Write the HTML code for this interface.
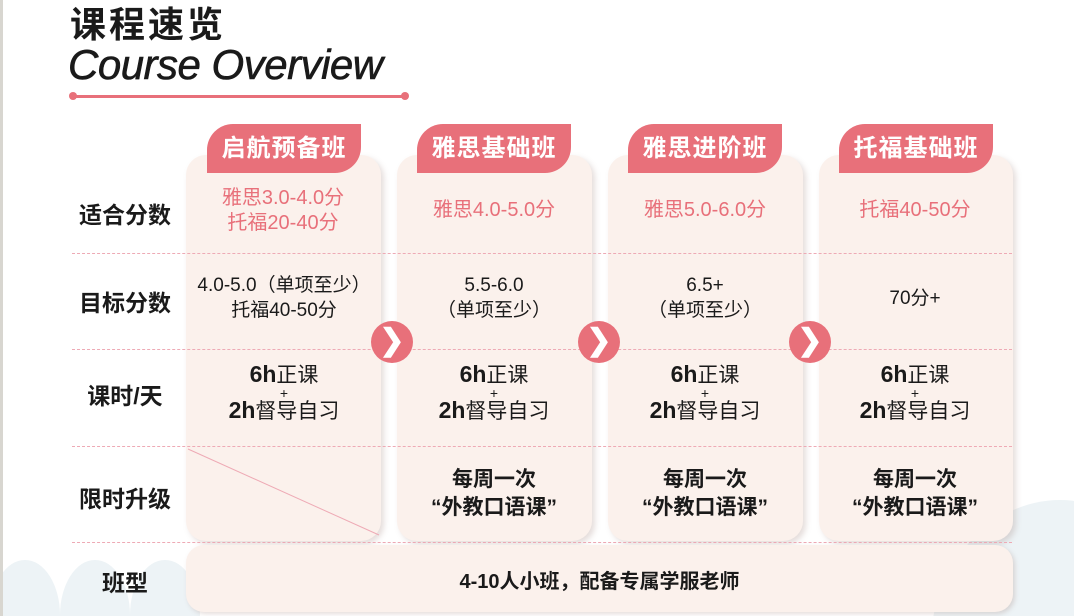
<!DOCTYPE html>
<html style="width:1074px;height:616px;overflow:hidden"><head><meta charset="utf-8"><style>
*{margin:0;padding:0;box-sizing:border-box}
body{width:1074px;height:616px;overflow:hidden;background:#fff;position:relative;font-family:"Liberation Sans","Noto Sans CJK SC",sans-serif;color:#1a1a1a}
.abs{position:absolute}
.circ{position:absolute;border-radius:50%;background:#edf3f6}
.card{position:absolute;top:155px;height:386px;background:#fbf1ec;border-radius:20px;box-shadow:3px 3px 6px rgba(150,120,110,.25)}
.tab{position:absolute;top:124px;height:49px;width:154px;background:#e8707a;border-radius:26px 0 26px 0;color:#fff;font-weight:bold;font-size:24px;text-align:center;line-height:49px;letter-spacing:1px}
.dl{position:absolute;left:72px;width:940px;border-top:1px dashed #eeaab5;height:0}
.lab{position:absolute;left:58px;width:134px;text-align:center;font-weight:bold;font-size:23px}
.c{position:absolute;width:196px;text-align:center;font-size:19px;line-height:25px}
.pink{color:#e8707a;font-size:20px}
.arr{position:absolute;width:42px;height:42px;border-radius:50%;background:#e8707a;color:#fff;font-size:30px;font-weight:bold;text-align:center;line-height:40px}
.h{font-size:21px;line-height:24px}
.h b{font-size:23px}
</style></head><body>
<div class="abs" style="left:0;top:0;width:1074px;height:616px;overflow:hidden">
<div class="circ" style="left:-10px;top:560px;width:70px;height:110px"></div>
<div class="circ" style="left:60px;top:560px;width:70px;height:110px"></div>
<div class="circ" style="left:130px;top:560px;width:70px;height:110px"></div>
<div class="circ" style="left:930px;top:500px;width:260px;height:300px"></div>
</div>
<div class="abs" style="left:0;top:0;width:3px;height:616px;background:#d8d6d0"></div>
<div class="abs" style="left:70px;top:4px;font-size:36px;font-weight:bold;letter-spacing:3px;line-height:42px">课程速览</div>
<div class="abs" style="left:68px;top:41px;font-size:42px;font-style:italic;line-height:48px;letter-spacing:-0.5px;-webkit-text-stroke:0.6px #1a1a1a">Course Overview</div>
<div class="abs" style="left:73px;top:95px;width:333px;height:3px;background:#e8707a"></div>
<div class="abs" style="left:69px;top:92px;width:8px;height:8px;border-radius:50%;background:#e8707a"></div>
<div class="abs" style="left:401px;top:92px;width:8px;height:8px;border-radius:50%;background:#e8707a"></div>

<div class="card" style="left:186px;width:195px"></div>
<div class="card" style="left:397px;width:195px"></div>
<div class="card" style="left:608px;width:195px"></div>
<div class="card" style="left:819px;width:194px"></div>
<div class="tab" style="left:207px">启航预备班</div>
<div class="tab" style="left:417px">雅思基础班</div>
<div class="tab" style="left:628px">雅思进阶班</div>
<div class="tab" style="left:839px">托福基础班</div>

<div class="dl" style="top:253px"></div>
<div class="dl" style="top:349px"></div>
<div class="dl" style="top:446px"></div>
<div class="dl" style="top:542px"></div>
<svg class="abs" style="left:186px;top:447px" width="196" height="92"><line x1="2" y1="2" x2="193" y2="88" stroke="#eeaab5" stroke-width="1"/></svg>

<div class="abs" style="left:186px;top:545px;width:827px;height:67px;background:#fbf1ec;border-radius:18px;box-shadow:2px 2px 5px rgba(150,120,110,.25)"></div>

<div class="lab" style="top:196px">适合分数</div>
<div class="lab" style="top:284px">目标分数</div>
<div class="lab" style="top:377px">课时/天</div>
<div class="lab" style="top:480px">限时升级</div>
<div class="lab" style="top:564px">班型</div>

<div class="c pink" style="left:185px;top:186px">雅思3.0-4.0分<br>托福20-40分</div>
<div class="c pink" style="left:396px;top:198px">雅思4.0-5.0分</div>
<div class="c pink" style="left:607px;top:198px">雅思5.0-6.0分</div>
<div class="c pink" style="left:817px;top:198px">托福40-50分</div>

<div class="c" style="left:186px;top:273px">4.0-5.0（单项至少）<br>托福40-50分</div>
<div class="c" style="left:396px;top:273px">5.5-6.0<br>（单项至少）</div>
<div class="c" style="left:607px;top:273px">6.5+<br>（单项至少）</div>
<div class="c" style="left:817px;top:286px">70分+</div>

<div class="c h" style="left:186px;top:362px"><b>6h</b>正课<br><span style="font-size:14px;line-height:10px;display:block">+</span><b>2h</b>督导自习</div>
<div class="c h" style="left:396px;top:362px"><b>6h</b>正课<br><span style="font-size:14px;line-height:10px;display:block">+</span><b>2h</b>督导自习</div>
<div class="c h" style="left:607px;top:362px"><b>6h</b>正课<br><span style="font-size:14px;line-height:10px;display:block">+</span><b>2h</b>督导自习</div>
<div class="c h" style="left:817px;top:362px"><b>6h</b>正课<br><span style="font-size:14px;line-height:10px;display:block">+</span><b>2h</b>督导自习</div>

<div class="c" style="left:396px;top:466px;font-weight:bold;font-size:21px;line-height:28px">每周一次<br>“外教口语课”</div>
<div class="c" style="left:607px;top:466px;font-weight:bold;font-size:21px;line-height:28px">每周一次<br>“外教口语课”</div>
<div class="c" style="left:817px;top:466px;font-weight:bold;font-size:21px;line-height:28px">每周一次<br>“外教口语课”</div>

<div class="abs" style="left:186px;top:565px;width:827px;text-align:center;font-weight:bold;font-size:20px">4-10人小班，配备专属学服老师</div>

<div class="arr" style="left:371px;top:321px">❯</div>
<div class="arr" style="left:578px;top:321px">❯</div>
<div class="arr" style="left:789px;top:321px">❯</div>
</body></html>
